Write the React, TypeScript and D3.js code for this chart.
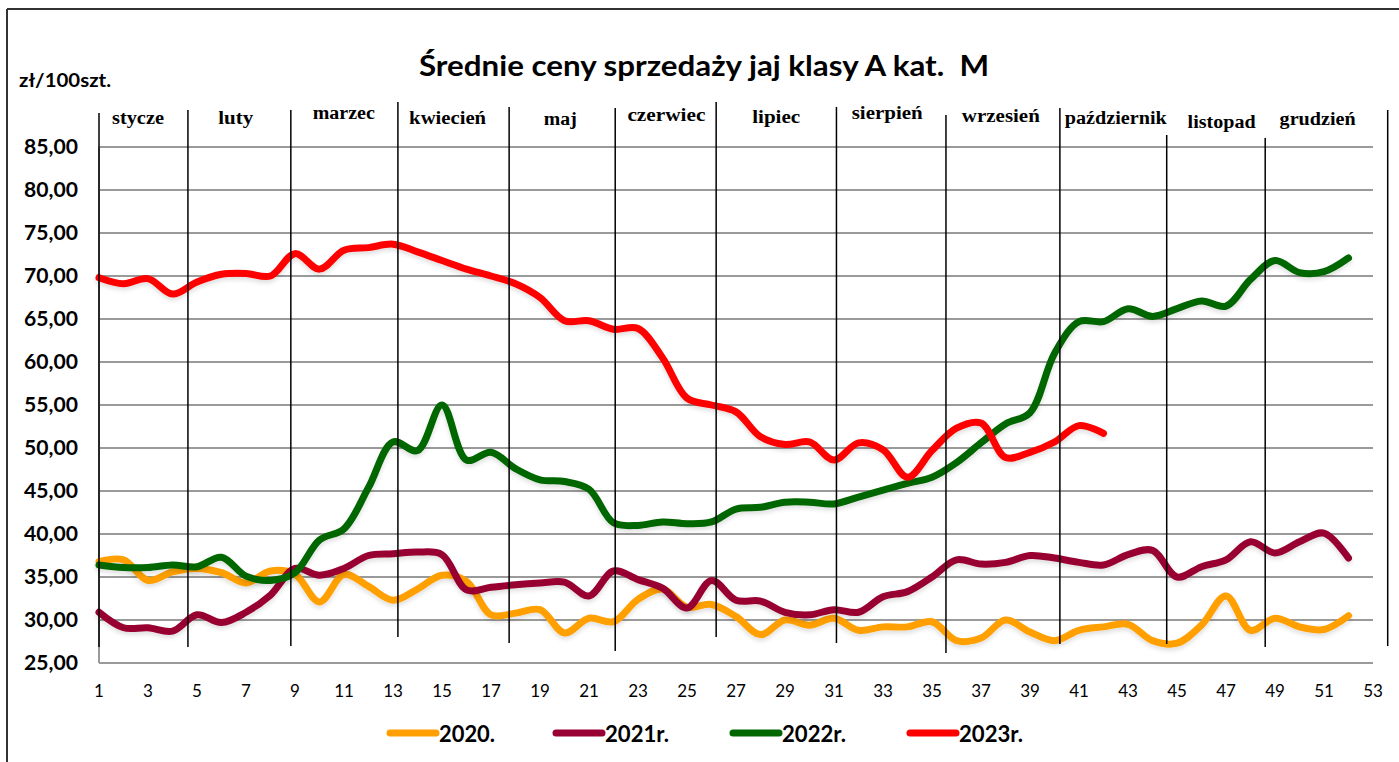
import React, { useEffect } from "react";
import * as d3 from "d3";

// ---- DATA ----
const weeks = d3.range(1, 53); // 1..52
const xTicks = d3.range(1, 54, 2); // 1,3,...,53
const yTicks = [25, 30, 35, 40, 45, 50, 55, 60, 65, 70, 75, 80, 85];

const s2020 = [36.8, 37.0, 34.6, 35.6, 36.0, 35.5, 34.3, 35.7, 35.3, 32.1, 35.3, 33.9, 32.3, 33.6, 35.2, 34.5, 30.6, 30.8, 31.2, 28.5, 30.2, 29.8, 32.4, 33.6, 31.5, 31.8, 30.4, 28.3, 30.0, 29.4, 30.2, 28.8, 29.2, 29.2, 29.8, 27.6, 27.9, 30.0, 28.6, 27.6, 28.8, 29.2, 29.5, 27.6, 27.3, 29.4, 32.8, 28.8, 30.2, 29.2, 28.9, 30.5];
const s2021 = [30.9, 29.1, 29.1, 28.7, 30.6, 29.7, 30.9, 32.9, 36.0, 35.2, 36.0, 37.5, 37.7, 37.9, 37.6, 33.5, 33.8, 34.1, 34.3, 34.4, 32.8, 35.7, 34.7, 33.7, 31.4, 34.6, 32.3, 32.2, 30.9, 30.6, 31.2, 30.9, 32.7, 33.3, 35.0, 37.0, 36.5, 36.7, 37.5, 37.2, 36.7, 36.4, 37.6, 38.1, 35.0, 36.2, 37.0, 39.1, 37.8, 39.1, 40.1, 37.2];
const s2022 = [36.4, 36.1, 36.1, 36.4, 36.2, 37.3, 35.1, 34.6, 35.5, 39.3, 40.6, 45.4, 50.7, 49.7, 55.0, 48.6, 49.5, 47.6, 46.3, 46.1, 45.2, 41.3, 41.0, 41.4, 41.2, 41.4, 42.9, 43.1, 43.7, 43.7, 43.5, 44.3, 45.1, 45.9, 46.6, 48.3, 50.6, 52.8, 54.1, 61.0, 64.7, 64.7, 66.2, 65.3, 66.2, 67.1, 66.5, 69.6, 71.8, 70.4, 70.5, 72.1];
const s2023 = [69.8, 69.1, 69.7, 67.9, 69.3, 70.2, 70.3, 70.0, 72.6, 70.8, 73.0, 73.3, 73.7, 72.8, 71.8, 70.8, 70.0, 69.1, 67.5, 64.8, 64.8, 63.8, 63.9, 60.5, 55.8, 55.0, 54.2, 51.3, 50.4, 50.7, 48.6, 50.6, 49.8, 46.6, 49.7, 52.3, 52.9, 48.9, 49.5, 50.7, 52.6, 51.7];

const seriesNames = ["2020.", "2021r.", "2022r.", "2023r."];
const seriesValues = [s2020, s2021, s2022, s2023];

const months = ["stycze", "luty", "marzec", "kwiecień", "maj", "czerwiec", "lipiec", "sierpień", "wrzesień", "październik", "listopad", "grudzień"];
// month divider positions, in week units
const monthBoundaries = [1, 4.63, 8.83, 13.2, 17.74, 22.07, 26.19, 31.1, 35.57, 40.22, 44.58, 48.6, 53.6];

// ---- LAYOUT / STYLE ----
const W = 1399;
const H = 762;
const colors = ["#FFA000", "#990033", "#006600", "#FF0000"];
const monthLabelWeek = [2.59, 6.58, 10.99, 15.23, 19.83, 24.16, 28.64, 33.17, 37.81, 42.5, 46.82, 50.74];
const monthLabelY = [124, 124, 119, 124, 125, 121, 123, 119, 122, 124, 128, 125];
const monthLabelW = [52, 35, 62, 77, 33, 78, 48, 71, 78, 102, 68, 76];
const dividerTop = [113, 110, 110, 102, 107, 108, 102, 107, 115, 108, 135, 138, 110];
const dividerBottom = [647, 647, 646, 637, 643, 651, 637, 643, 653, 644, 644, 647, 646];
const legendX = [390, 556, 733, 910];
const legendTextW = [56, 64, 64, 64];

const x = d3.scaleLinear().domain([1, 53]).range([99, 1373]);
const y = d3.scaleLinear().domain([25, 85]).range([663, 147]);

const lineGen = d3
  .line<number>()
  .x((_, i) => x(weeks[i]))
  .y((d) => y(d))
  .curve(d3.curveCatmullRom.alpha(0.5));

const sans = "Lato, 'Open Sans', 'Liberation Sans', sans-serif";
const serif = "'Liberation Serif', 'Times New Roman', serif";

export default function App() {
  useEffect(() => {
    document.body.style.margin = "0";
    document.body.style.overflow = "hidden";
  }, []);

  return (
    <svg width={W} height={H} style={{ display: "block", background: "#fff" }}>
      <defs>
        <filter id="sh" x="-5%" y="-20%" width="110%" height="140%">
          <feDropShadow dx="0" dy="3" stdDeviation="2" floodColor="#000" floodOpacity="0.12" />
        </filter>
      </defs>
      {/* outer border */}
      <line x1={7} y1={9} x2={W} y2={9} stroke="#333" strokeWidth={2} />
      <line x1={7} y1={9} x2={7} y2={H} stroke="#333" strokeWidth={2} />

      {/* title */}
      <text x={419} y={76} fontFamily={sans} fontWeight="bold" fontSize={28} textLength={570} lengthAdjust="spacingAndGlyphs" fill="#000">
        Średnie ceny sprzedaży jaj klasy A kat.{"\u00A0\u00A0"}M
      </text>
      <text x={19} y={87} fontFamily={sans} fontWeight="bold" fontSize={18} textLength={92} lengthAdjust="spacingAndGlyphs" fill="#000">
        zł/100szt.
      </text>

      {/* gridlines */}
      {yTicks.map((t) => (
        <line key={t} x1={x(1)} x2={x(53)} y1={y(t)} y2={y(t)} stroke="#9a9a9a" strokeWidth={2} />
      ))}
      <line x1={x(1)} x2={x(1)} y1={y(85)} y2={y(25)} stroke="#9a9a9a" strokeWidth={2} />

      {/* y tick labels */}
      {yTicks.map((t) => (
        <text key={t} x={78} y={y(t) + 7} textAnchor="end" fontFamily={sans} fontWeight="bold" fontSize={20} textLength={54} lengthAdjust="spacingAndGlyphs" fill="#000">
          {d3.format(".2f")(t).replace(".", ",")}
        </text>
      ))}

      {/* x tick labels */}
      {xTicks.map((t) => (
        <text key={t} x={x(t)} y={697} textAnchor="middle" fontFamily={sans} fontSize={17} fill="#000">
          {t}
        </text>
      ))}

      {/* series */}
      {seriesValues.map((vals, i) => (
        <path key={i} d={lineGen(vals) || ""} fill="none" stroke={colors[i]} strokeWidth={7} strokeLinecap="round" strokeLinejoin="round" filter="url(#sh)" />
      ))}

      {/* month dividers */}
      {monthBoundaries.map((w, i) => (
        <line key={i} x1={x(w)} x2={x(w)} y1={dividerTop[i]} y2={dividerBottom[i]} stroke="#000" strokeWidth={1.5} />
      ))}

      {/* month labels */}
      {months.map((m, i) => (
        <text key={m} x={x(monthLabelWeek[i])} y={monthLabelY[i]} textAnchor="middle" fontFamily={serif} fontWeight="bold" fontSize={18} textLength={monthLabelW[i]} lengthAdjust="spacingAndGlyphs" fill="#000">
          {m}
        </text>
      ))}

      {/* legend */}
      {seriesNames.map((n, i) => (
        <g key={n}>
          <line x1={legendX[i]} x2={legendX[i] + 46} y1={733} y2={733} stroke={colors[i]} strokeWidth={7} strokeLinecap="round" />
          <text x={legendX[i] + 49} y={742} fontFamily={sans} fontWeight="bold" fontSize={23} textLength={legendTextW[i]} lengthAdjust="spacingAndGlyphs" fill="#000">
            {n}
          </text>
        </g>
      ))}
    </svg>
  );
}
